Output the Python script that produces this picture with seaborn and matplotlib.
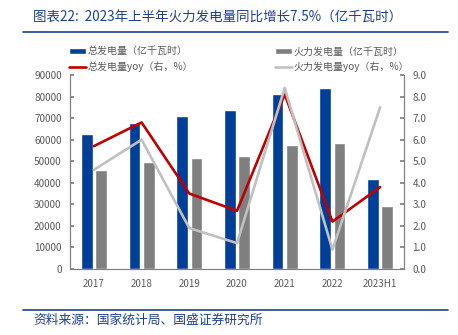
import numpy as np
import pandas as pd
import matplotlib
matplotlib.use("Agg")
import matplotlib.pyplot as plt
import seaborn as sns
from matplotlib.patches import Patch
from matplotlib.lines import Line2D

years = ["2017", "2018", "2019", "2020", "2021", "2022", "2023H1"]
total_gen = [62758, 67914, 71118, 73760, 81122, 83886, 41680]
thermal_gen = [46115, 49640, 51350, 52420, 57703, 58531, 29182]
total_yoy = [5.7, 6.8, 3.5, 2.7, 8.1, 2.2, 3.8]
thermal_yoy = [4.6, 6.0, 1.9, 1.2, 8.4, 0.9, 7.5]

bar_labels = ["总发电量（亿千瓦时）", "火力发电量（亿千瓦时）"]
line_labels = ["总发电量yoy（右，%）", "火力发电量yoy（右，%）"]

title_text = "图表22:  2023年上半年火力发电量同比增长7.5%（亿千瓦时）"
source_text = "资料来源：国家统计局、国盛证券研究所"

BLUE = "#003f98"
GRAY = "#7f7f7f"
RED = "#c00000"
LGRAY = "#c0c0c0"
TXT = "#595959"
NAVY = "#1f3f8f"

sns.set_theme(style="white")
plt.rcParams["font.family"] = ["Noto Sans CJK SC", "DejaVu Sans"]

bars = pd.DataFrame({
    "year": years * 2,
    "value": total_gen + thermal_gen,
    "series": [bar_labels[0]] * len(years) + [bar_labels[1]] * len(years),
})

fig = plt.figure(figsize=(4.58, 3.35), dpi=100)
ax = fig.add_axes([70 / 458, 1 - 269 / 335, (404 - 70) / 458, (269 - 75) / 335])

sns.barplot(data=bars, x="year", y="value", hue="series", order=years,
            hue_order=bar_labels, palette=[BLUE, GRAY], width=0.6, gap=0.18,
            saturation=1, legend=False, ax=ax)
ax.set_ylim(0, 90000)
ax.set_yticks(np.arange(0, 90001, 10000))
ax.set_xlim(-0.5, len(years) - 0.5)
ax.set_xlabel("")
ax.set_ylabel("")

ax2 = ax.twinx()
xpos = np.arange(len(years))
sns.lineplot(x=xpos, y=total_yoy, color=RED, lw=1.9, ax=ax2)
sns.lineplot(x=xpos, y=thermal_yoy, color=LGRAY, lw=1.9, ax=ax2)
ax2.set_ylim(0, 9)
ax2.set_yticks(np.arange(0, 9.01, 1.0))
ax2.set_yticklabels([f"{v:.1f}" for v in np.arange(0, 9.01, 1.0)])

# spines and ticks
for a in (ax, ax2):
    a.spines["top"].set_visible(False)
    for s in ("left", "right", "bottom"):
        a.spines[s].set_color("#808080")
        a.spines[s].set_linewidth(0.8)
    a.grid(False)
ax.spines["bottom"].set_color("#bfbfbf")
ax.tick_params(axis="y", direction="in", length=3, color="#808080",
               labelsize=7.2, labelcolor=TXT, pad=6)
ax2.tick_params(axis="y", direction="in", length=3, color="#808080",
                labelsize=7.2, labelcolor=TXT, pad=6)
ax.set_xticks(xpos)
ax.set_xticklabels(years)
ax.tick_params(axis="x", length=0, labelsize=7, labelcolor=TXT, pad=7)
ax.set_xticks(np.arange(0.5, len(years) - 0.5, 1.0), minor=True)
ax.tick_params(axis="x", which="minor", direction="in", length=3, color="#808080")

# legend
handles = [
    Patch(facecolor=BLUE, label=bar_labels[0]),
    Line2D([], [], color=RED, lw=1.9, label=line_labels[0]),
    Patch(facecolor=GRAY, label=bar_labels[1]),
    Line2D([], [], color=LGRAY, lw=1.9, label=line_labels[1]),
]
leg = fig.legend(handles=handles, ncol=2, loc="upper left",
                 bbox_to_anchor=(69 / 458, 1 - 47 / 335), frameon=False,
                 fontsize=7.2, handlelength=1.7, handleheight=0.55,
                 handletextpad=0.15, columnspacing=8.2, labelspacing=0.45,
                 borderaxespad=0, borderpad=0)
for t in leg.get_texts():
    t.set_color(TXT)

# title and source
fig.text(33 / 458, 1 - 17 / 335, title_text, fontsize=9.7, color=NAVY,
         style="italic", va="center", ha="left")
fig.add_artist(Line2D([23 / 458, 448 / 458], [1 - 32 / 335] * 2,
                      color=NAVY, lw=1.2, transform=fig.transFigure))
fig.add_artist(Line2D([23 / 458, 448 / 458], [1 - 310 / 335] * 2,
                      color=NAVY, lw=1.2, transform=fig.transFigure))
fig.text(33 / 458, 1 - 320 / 335, source_text, fontsize=9.2, color=NAVY,
         style="italic", va="center", ha="left")

fig.savefig("out.png", dpi=100)
